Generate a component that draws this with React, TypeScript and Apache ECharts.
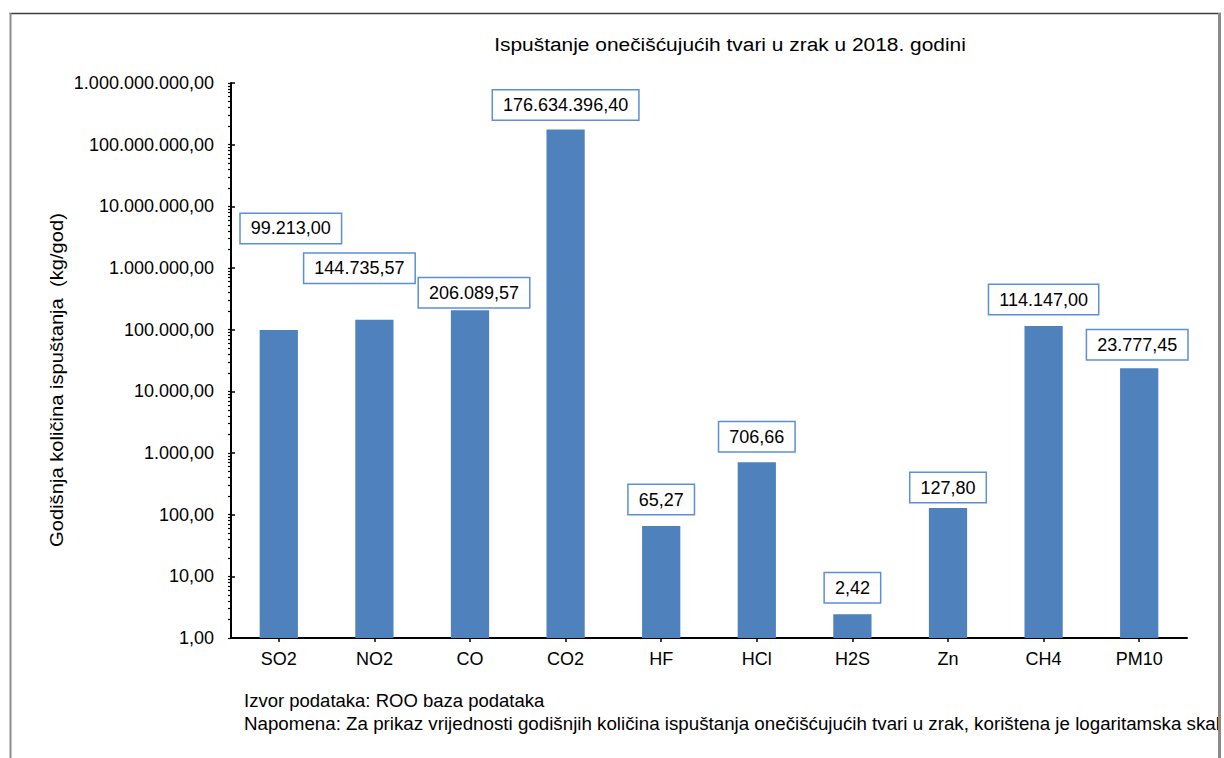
import React, { useEffect, useRef } from "react";
import * as echarts from "echarts";

const categories = ["SO2", "NO2", "CO", "CO2", "HF", "HCl", "H2S", "Zn", "CH4", "PM10"];
const values = [99213.0, 144735.57, 206089.57, 176634396.4, 65.27, 706.66, 2.42, 127.8, 114147.0, 23777.45];
const titleText = "Ispuštanje onečišćujućih tvari u zrak u 2018. godini";
const yName = "Godišnja količina ispuštanja  (kg/god)";
const sourceNote = "Izvor podataka: ROO baza podataka";
const remarkNote =
  "Napomena: Za prikaz vrijednosti godišnjih količina ispuštanja onečišćujućih tvari u zrak, korištena je logaritamska skala";

// label placement (layout only)
const labelOffsets: number[][] = [
  [12, -76], [-15, -26], [4, 8], [0, 1], [0, -1], [0, 0], [0, -1], [0, 5], [0, -1], [-2, 2],
];

const FONT = "'Liberation Sans', Arial, sans-serif";

function fmt(v: number): string {
  const [i, d] = Number(v).toFixed(2).split(".");
  return i.replace(/\B(?=(\d{3})+(?!\d))/g, ".") + "," + d;
}

// decorative log minor tick positions in decades (0..9)
const logTicks: number[] = [];
for (let d = 0; d < 9; d++) {
  for (let k = 1; k <= 9; k++) logTicks.push(d + Math.log10(k));
}
logTicks.push(9);

export default function App() {
  const ref = useRef<HTMLDivElement>(null);
  useEffect(() => {
    const chart = echarts.init(ref.current!, null, { renderer: "svg" });
    chart.setOption({
      animation: false,
      backgroundColor: "#fff",
      textStyle: { fontFamily: FONT },
      grid: { left: 231, right: 37, top: 83, bottom: 120, containLabel: false },
      xAxis: {
        type: "category",
        data: categories,
        boundaryGap: true,
        axisLine: { lineStyle: { color: "#000", width: 2 } },
        axisTick: { show: true, alignWithLabel: true, length: 4, lineStyle: { color: "#000", width: 1.5 } },
        axisLabel: { color: "#000", fontSize: 18, fontFamily: FONT, margin: 12 },
        splitLine: { show: false },
      },
      yAxis: [
        {
          type: "log",
          logBase: 10,
          min: 1,
          max: 1000000000,
          splitNumber: 9,
          position: "left",
          axisLine: { show: true, lineStyle: { color: "#000", width: 2 } },
          axisTick: { show: true, inside: true, length: 4, lineStyle: { color: "#000", width: 1.5 } },
          axisLabel: { color: "#000", fontSize: 18, fontFamily: FONT, margin: 17, formatter: (v: number) => fmt(v) },
          splitLine: { show: false },
          minorTick: { show: false },
        },
        {
          type: "value",
          min: 0,
          max: 9,
          position: "left",
          axisLine: { show: false },
          axisTick: { show: true, inside: false, length: 3, customValues: logTicks, lineStyle: { color: "#000", width: 1.2 } },
          axisLabel: { show: false },
          splitLine: { show: false },
        },
      ],
      series: [
        {
          type: "bar",
          yAxisIndex: 0,
          barWidth: "40%",
          itemStyle: { color: "#4F81BD" },
          data: values.map((v, i) => ({ value: v, label: { offset: labelOffsets[i] } })),
          label: {
            show: true,
            position: "top",
            distance: 11,
            formatter: (p: any) => fmt(p.value),
            color: "#000",
            fontSize: 18,
            fontFamily: FONT,
            lineHeight: 19,
            backgroundColor: "#fff",
            borderColor: "#5B8FD9",
            borderWidth: 1.5,
            padding: [5, 10],
          },
        },
      ],
      graphic: [
        {
          type: "text",
          x: 730,
          y: 44.5,
          scaleX: 1.1,
          z: 5,
          style: { text: titleText, fill: "#000", font: `19px ${FONT}`, textAlign: "center", textVerticalAlign: "middle" },
        },
        {
          type: "text",
          x: 57,
          y: 380,
          rotation: Math.PI / 2,
          scaleX: 1.12,
          z: 5,
          style: { text: yName, fill: "#000", font: `18px ${FONT}`, textAlign: "center", textVerticalAlign: "middle" },
        },
        {
          type: "text",
          x: 244,
          y: 700.5,
          z: 5,
          style: { text: sourceNote, fill: "#000", font: `18.5px ${FONT}`, textAlign: "left", textVerticalAlign: "middle" },
        },
        {
          type: "text",
          x: 244,
          y: 723.5,
          scaleX: 1.014,
          z: 5,
          style: { text: remarkNote, fill: "#000", font: `18.5px ${FONT}`, textAlign: "left", textVerticalAlign: "middle" },
        },
        { type: "rect", z: 20, shape: { x: 1221, y: 0, width: 10, height: 760 }, style: { fill: "#fff" } },
        { type: "line", z: 21, shape: { x1: 9.5, y1: 13.5, x2: 1221, y2: 13.5 }, style: { stroke: "#3c3c3c", lineWidth: 1.5 } },
        { type: "line", z: 21, shape: { x1: 10.5, y1: 13, x2: 10.5, y2: 760 }, style: { stroke: "#8c8c8c", lineWidth: 2 } },
        { type: "line", z: 21, shape: { x1: 1219.5, y1: 13, x2: 1219.5, y2: 760 }, style: { stroke: "#8a8a8a", lineWidth: 3 } },
      ],
    });
    return () => chart.dispose();
  }, []);
  return (
    <div
      ref={ref}
      style={{ position: "absolute", left: 0, top: 0, width: 1224, height: 758, background: "#fff" }}
    />
  );
}
